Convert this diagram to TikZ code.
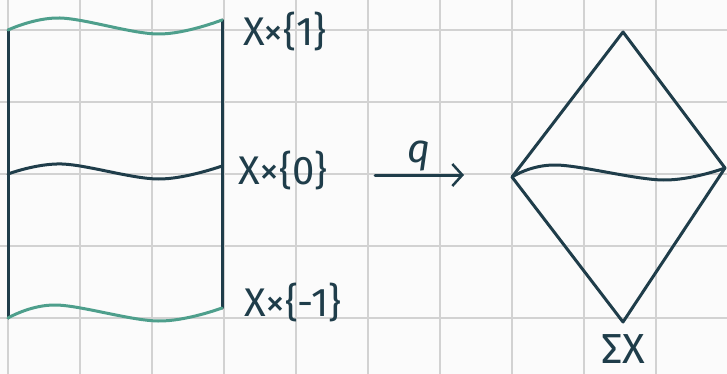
\documentclass[tikz,border=0pt]{standalone}
\usepackage{fontspec}
\setmainfont{Fira Sans}
\usetikzlibrary{arrows.meta, positioning, calc}
\definecolor{ink}{HTML}{1F3D4A}
\definecolor{teal}{HTML}{4E9F8C}
\definecolor{paper}{HTML}{FBFBFB}
\definecolor{gridline}{HTML}{D2D2D2}

\begin{document}
\begin{tikzpicture}[
    x=1pt, y=-1pt,
    % Define line styles
    pen/.style={draw=ink, line width=3pt, line cap=round, line join=round},
    edgewave/.style={draw=teal, line width=3pt, line cap=round},
    gridrule/.style={draw=gridline, line width=1.5pt},
    % Define label style
    lab/.style={text=ink, font=\fontsize{40}{42}\selectfont, inner sep=0pt},
    % Define arrow style
    map/.style={pen, -{Straight Barb[length=10pt, width=22pt, line width=2.5pt]}},
]

% Paper and grid
\fill[paper] (0,0) rectangle (727,374);
\useasboundingbox (0,0) rectangle (727,374);
\foreach \gx in {8,80,...,728} {
    \draw[gridrule] (\gx,0) -- (\gx,374);
}
\foreach \gy in {30,102,...,318} {
    \draw[gridrule] (0,\gy) -- (727,\gy);
}

% Corner points of the cylinder
\coordinate (TL) at (8,30);
\coordinate (TR) at (222,20);
\coordinate (ML) at (8,174);
\coordinate (MR) at (222,166);
\coordinate (BL) at (8,318);
\coordinate (BR) at (222,308);

% Cylinder X x [-1,1]
\draw[pen] (TL) -- (BL);
\draw[pen] (TR) -- (BR);
\draw[edgewave] plot[smooth, tension=0.6] coordinates {(TL) (60,18) (158,34) (TR)};
\draw[pen] plot[smooth, tension=0.6] coordinates {(ML) (62,164) (158,179) (MR)};
\draw[edgewave] plot[smooth, tension=0.6] coordinates {(BL) (56,305) (158,321) (BR)};

% Labels of the slices
\node[lab] (top) at (285,32) {X×\{1\}};
\node[lab] (mid) at (283,170) {X×\{0\}};
\node[lab] (bot) at (293,302) {X×\{-1\}};

% Quotient map
\coordinate (from) at (375,175);
\coordinate (to) at (464,175);
\draw[map] (from) -- (to);
\node[lab, above=4pt of $(from)!0.5!(to)$, xshift=0pt] (q) {\itshape q};

% Suspension
\coordinate (SL) at (512,177);
\coordinate (ST) at (623,32);
\coordinate (SR) at (725,168);
\coordinate (SB) at (623,322);
\draw[pen] (SL) -- (ST) -- (SR) -- (SB) -- cycle;
\draw[pen] plot[smooth, tension=0.6] coordinates {(SL) (556,165) (663,180) (SR)};
\node[lab, below=12pt of SB, text depth=0pt, font=\fontsize{42}{44}\selectfont] (sigma) {ΣX};

\end{tikzpicture}
\end{document}
